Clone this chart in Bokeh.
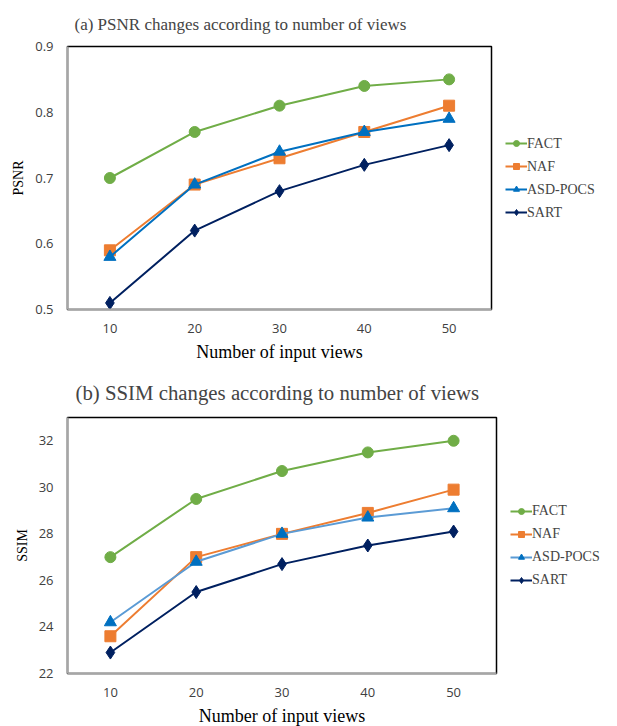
from bokeh.plotting import figure
from bokeh.layouts import column
from bokeh.models import Legend, LegendItem, FixedTicker
from bokeh.embed import file_html
from bokeh.resources import INLINE

views = [10, 20, 30, 40, 50]
series_names = ["FACT", "NAF", "ASD-POCS", "SART"]

psnr_fact = [0.70, 0.77, 0.81, 0.84, 0.85]
psnr_naf = [0.59, 0.69, 0.73, 0.77, 0.81]
psnr_asd = [0.58, 0.69, 0.74, 0.77, 0.79]
psnr_sart = [0.51, 0.62, 0.68, 0.72, 0.75]

ssim_fact = [27.0, 29.5, 30.7, 31.5, 32.0]
ssim_naf = [23.6, 27.0, 28.0, 28.9, 29.9]
ssim_asd = [24.2, 26.8, 28.0, 28.7, 29.1]
ssim_sart = [22.9, 25.5, 26.7, 27.5, 28.1]

psnr_ticks = [0.5, 0.6, 0.7, 0.8, 0.9]
ssim_ticks = [22, 24, 26, 28, 30, 32]

SERIF = "Liberation Serif"
SANS = "Open Sans"


def make_chart(title, title_size, title_offset, title_standoff, ylabel, data,
               yrange, yticks, w, h, fw, fh, bl, bt, bb, legend_margin,
               asd_line_color):
    p = figure(width=w, height=h, frame_width=fw, frame_height=fh,
               x_range=(5, 55), y_range=yrange,
               output_backend="svg", toolbar_location=None,
               min_border_left=bl, min_border_right=0,
               min_border_top=bt, min_border_bottom=bb)
    p.title.text = title
    p.title.text_font = SERIF
    p.title.text_font_size = title_size
    p.title.text_font_style = "normal"
    p.title.align = "left"
    p.title.vertical_align = "top"
    p.title.offset = title_offset
    p.title.standoff = title_standoff
    p.xgrid.visible = False
    p.ygrid.visible = False
    p.outline_line_color = "black"
    p.outline_line_width = 1.5
    p.outline_line_alpha = 1

    for ax in (p.xaxis[0], p.yaxis[0]):
        ax.axis_line_color = "#a6a6a6"
        ax.axis_line_width = 2
        ax.major_tick_line_color = None
        ax.minor_tick_line_color = None
        ax.major_tick_out = 0
        ax.major_tick_in = 0
        ax.minor_tick_out = 0
        ax.major_label_text_font = SANS
        ax.major_label_text_font_size = "13px"
        ax.major_label_text_color = "#404040"
        ax.axis_label_text_font = SERIF
        ax.axis_label_text_font_style = "normal"
        ax.axis_label_text_color = "black"

    p.xaxis.ticker = FixedTicker(ticks=views)
    p.yaxis.ticker = FixedTicker(ticks=yticks)
    p.xaxis.axis_label = "Number of input views"
    p.xaxis.axis_label_text_font_size = "18px"
    p.xaxis.major_label_standoff = 14
    p.xaxis.axis_label_standoff = 6
    p.yaxis.axis_label = ylabel
    p.yaxis.axis_label_text_font_size = "14px"
    p.yaxis.major_label_standoff = 14
    p.yaxis.axis_label_standoff = 6

    styles = [
        ("#70ad47", "#70ad47", "circle", 11),
        ("#ed7d31", "#ed7d31", "square", 11),
        (asd_line_color, "#0070c0", "triangle", 12),
        ("#002060", "#002060", "diamond", 13),
    ]
    items = []
    for name, vals, (lc, mc, mk, sz) in zip(series_names, data, styles):
        ln = p.line(views, vals, line_color=lc, line_width=2)
        sc = p.scatter(views, vals, marker=mk, size=sz,
                       fill_color=mc, line_color=mc)
        items.append(LegendItem(label=name, renderers=[ln, sc]))

    legend = Legend(items=items, location="center_left")
    legend.label_text_font = SERIF
    legend.label_text_font_size = "14px"
    legend.label_standoff = 0
    legend.glyph_width = 22
    legend.glyph_height = 15
    legend.label_height = 15
    legend.spacing = 7
    legend.padding = 0
    legend.margin = legend_margin
    legend.border_line_color = None
    legend.background_fill_alpha = 0
    p.add_layout(legend, "right")
    return p


p1 = make_chart("(a) PSNR changes according to number of views", "17px", 7, 22,
                "PSNR", [psnr_fact, psnr_naf, psnr_asd, psnr_sart],
                (0.5, 0.9), psnr_ticks, 617, 365, 424, 263, 67, 46, 56,
                14, "#0070c0")
p2 = make_chart("(b) SSIM changes according to number of views", "20.8px", 8, 23,
                "SSIM", [ssim_fact, ssim_naf, ssim_asd, ssim_sart],
                (22, 33), ssim_ticks, 617, 361, 429, 256, 63, 52, 53,
                14, "#5b9bd5")

layout = column(p1, p2, spacing=0)
open("out.html", "w").write(file_html(layout, INLINE))
